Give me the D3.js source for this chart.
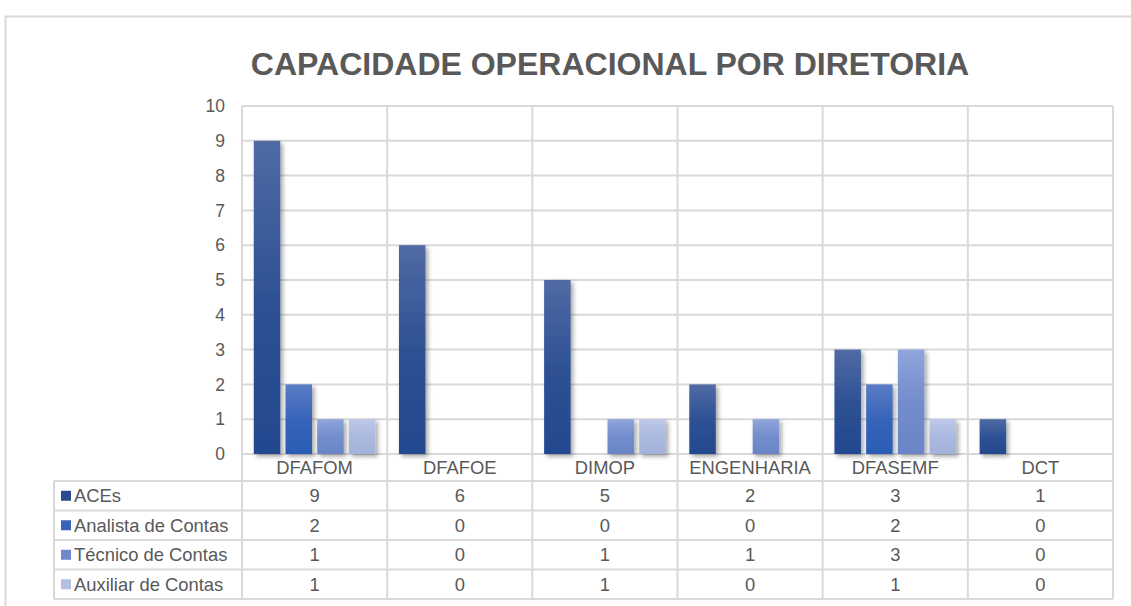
<!DOCTYPE html>
<html><head><meta charset="utf-8">
<script src="https://cdn.jsdelivr.net/npm/d3@7"></script>
<style>
html,body{margin:0;padding:0;background:#fff;}
svg{display:block;font-family:"Liberation Sans",Arial,sans-serif;}
</style></head>
<body>
<svg id="chart" width="1131" height="606"></svg>
<script>
const title = "CAPACIDADE OPERACIONAL POR DIRETORIA";
const categories = ["DFAFOM","DFAFOE","DIMOP","ENGENHARIA","DFASEMF","DCT"];
const seriesNames = ["ACEs","Analista de Contas","Técnico de Contas","Auxiliar de Contas"];
const aces = [9,6,5,2,3,1];
const analista = [2,0,0,0,2,0];
const tecnico = [1,0,1,1,3,0];
const auxiliar = [1,0,1,0,1,0];
const yTicks = [0,1,2,3,4,5,6,7,8,9,10];

const seriesValues = [aces, analista, tecnico, auxiliar];
const gradTop = ["#506aa4","#5b7cc6","#8fa5db","#bec8e9"];
const gradBottom = ["#23488f","#2b5cb5","#6985c7","#a4b3dc"];
const legendColors = ["#2b4b8e","#3a63ba","#7189cc","#b3c0e4"];

const svg = d3.select("#chart");
const grid = "#d9d9d9";
const txt = "#595959";
const fs = 18.4;

const L = 242, R = 1113, T = 106, B = 454;
const tableLeft = 54;
const rowEdges = [454, 481, 510.5, 540, 569.5, 599];

const defs = svg.append("defs");
seriesNames.forEach((s,i)=>{
  const g = defs.append("linearGradient").attr("id","g"+i).attr("x1",0).attr("y1",0).attr("x2",0).attr("y2",1);
  g.append("stop").attr("offset","0%").attr("stop-color",gradTop[i]);
  g.append("stop").attr("offset","50%").attr("stop-color",d3.interpolateRgb(gradTop[i],gradBottom[i])(0.75));
  g.append("stop").attr("offset","100%").attr("stop-color",gradBottom[i]);
});
const f = defs.append("filter").attr("id","sh").attr("x","-30%").attr("y","-10%").attr("width","180%").attr("height","130%");
f.append("feDropShadow").attr("dx",2.5).attr("dy",2.5).attr("stdDeviation",2).attr("flood-color","#000").attr("flood-opacity",0.35);

// outer border
svg.append("path").attr("d",`M5.5,606 V16.5 H1131`).attr("fill","none").attr("stroke",grid).attr("stroke-width",2);

// title
svg.append("text").attr("x",610).attr("y",75).attr("text-anchor","middle")
  .attr("font-size",32).attr("font-weight","bold").attr("fill",txt).text(title);

const x0 = d3.scaleBand().domain(categories).range([L,R]).paddingInner(0).paddingOuter(0);
const x1 = d3.scaleBand().domain(seriesNames).range([0,x0.bandwidth()]).paddingInner(0.164).paddingOuter(0.372);
const y = d3.scaleLinear().domain([0,10]).range([B,T]);

// horizontal gridlines
svg.append("g").selectAll("line").data(yTicks).join("line")
  .attr("x1",L).attr("x2",R).attr("y1",d=>y(d)).attr("y2",d=>y(d))
  .attr("stroke",grid).attr("stroke-width",2);

// vertical lines (plot + table)
const vx = categories.map(c=>x0(c)).concat([R]);
svg.append("g").selectAll("line").data(vx).join("line")
  .attr("x1",d=>d).attr("x2",d=>d).attr("y1",T).attr("y2",rowEdges[rowEdges.length-1])
  .attr("stroke",grid).attr("stroke-width",2);

// table horizontal lines
svg.append("g").selectAll("line").data(rowEdges.slice(1)).join("line")
  .attr("x1",tableLeft).attr("x2",R).attr("y1",d=>d).attr("y2",d=>d)
  .attr("stroke",grid).attr("stroke-width",2);
svg.append("line").attr("x1",tableLeft).attr("x2",tableLeft).attr("y1",rowEdges[1]).attr("y2",rowEdges[5])
  .attr("stroke",grid).attr("stroke-width",2);

// y axis labels
const yAxis = d3.axisLeft(y).tickValues(yTicks).tickSize(0).tickPadding(17);
const ya = svg.append("g").attr("transform",`translate(${L},0)`).call(yAxis);
ya.select(".domain").remove();
ya.selectAll("text").attr("font-size",17.5).attr("fill",txt).attr("font-family","Liberation Sans, Arial, sans-serif");

// bars
const data = categories.map((c,ci)=>({c, vals: seriesNames.map((s,si)=>({s,si,v:seriesValues[si][ci]}))}));
const groups = svg.append("g").selectAll("g").data(data).join("g").attr("transform",d=>`translate(${x0(d.c)},0)`);
groups.selectAll("rect").data(d=>d.vals.filter(v=>v.v>0)).join("rect")
  .attr("x",d=>x1(d.s)).attr("width",x1.bandwidth())
  .attr("y",d=>y(d.v)).attr("height",d=>y(0)-y(d.v))
  .attr("fill",d=>`url(#g${d.si})`).attr("filter","url(#sh)");

// category labels
svg.append("g").selectAll("text").data(categories).join("text")
  .attr("x",d=>x0(d)+x0.bandwidth()/2).attr("y",(rowEdges[0]+rowEdges[1])/2+6.5)
  .attr("text-anchor","middle").attr("font-size",fs).attr("fill",txt).text(d=>d);

// table rows
seriesNames.forEach((s,si)=>{
  const yc = (rowEdges[si+1]+rowEdges[si+2])/2;
  svg.append("rect").attr("x",61).attr("y",yc-5).attr("width",10).attr("height",10).attr("fill",legendColors[si]);
  svg.append("text").attr("x",74).attr("y",yc+6.5).attr("font-size",fs).attr("fill",txt).text(s);
  svg.append("g").selectAll("text").data(categories).join("text")
    .attr("x",(d)=>x0(d)+x0.bandwidth()/2).attr("y",yc+6.5).attr("text-anchor","middle")
    .attr("font-size",fs).attr("fill",txt).text((d,ci)=>seriesValues[si][ci]);
});
</script>
</body></html>
